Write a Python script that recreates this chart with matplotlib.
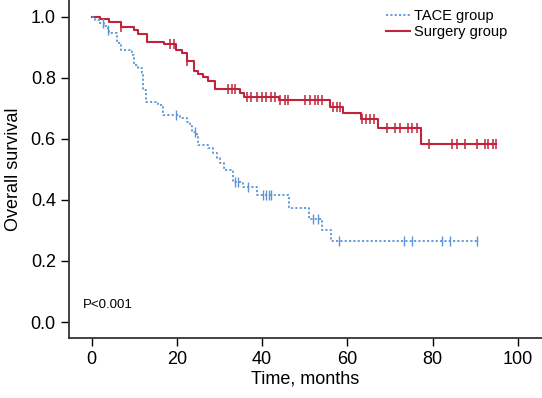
import numpy as np
import matplotlib
matplotlib.use("Agg")
import matplotlib.pyplot as plt

plt.rcParams['font.family'] = ['Liberation Sans', 'DejaVu Sans']

# Kaplan-Meier steps (time in months, survival after the drop)
surg_t = [0, 2.0, 4.1, 6.8, 9.9, 10.9, 12.9, 17.0, 19.9, 21.1, 22.4, 24.0, 25.0, 26.2,
          27.4, 28.9, 34.8, 35.8, 44.0, 55.9, 59.1, 63.2, 67.1, 77.2]
surg_s = [1.0, 0.991, 0.982, 0.967, 0.956, 0.942, 0.918, 0.909, 0.890, 0.879, 0.854, 0.822,
          0.812, 0.801, 0.788, 0.762, 0.751, 0.738, 0.727, 0.705, 0.683, 0.664, 0.634, 0.582]
surg_end = 94.9
surg_cens = [6.8, 18.4, 19.2, 22.4, 32.1, 32.9, 33.6, 36.4, 37.5, 38.7, 39.9, 41.0, 42.2, 43.0,
             44.2, 45.4, 46.1, 50.1, 51.3, 52.4, 53.2, 54.0, 56.7, 57.5, 58.3, 63.4, 64.4,
             65.3, 66.3, 69.2, 71.2, 72.4, 74.3, 75.1, 76.3, 79.2, 84.5, 85.7, 87.6, 90.4,
             92.3, 93.1, 94.1, 94.9]

tace_t = [0, 0.8, 1.8, 2.8, 3.8, 4.0, 5.9, 6.8, 9.4, 9.9, 10.9, 11.7, 12.0, 12.7, 15.6, 16.8,
          20.7, 22.3, 23.0, 23.6, 24.6, 25.0, 27.4, 28.5, 29.3, 30.1, 31.1, 33.2, 35.6, 38.7,
          46.2, 51.1, 54.0, 56.1]
tace_s = [1.0, 0.990, 0.979, 0.968, 0.957, 0.946, 0.912, 0.890, 0.874, 0.841, 0.830, 0.814,
          0.759, 0.721, 0.710, 0.678, 0.667, 0.656, 0.642, 0.623, 0.607, 0.580, 0.569, 0.552,
          0.536, 0.520, 0.498, 0.459, 0.443, 0.416, 0.372, 0.339, 0.303, 0.265]
tace_end = 90.4
tace_cens = [2.7, 3.9, 19.9, 24.2, 33.6, 34.4, 36.8, 40.3, 41.0, 41.6, 42.2, 52.0, 53.2,
             58.1, 73.2, 75.1, 82.2, 84.1, 90.4]

red = '#C0233A'
blue = '#5B95D8'


def step_at(ts, ss, x):
    i = np.searchsorted(ts, x, side='right') - 1
    return np.array(ss)[i]


fig = plt.figure(figsize=(5.42, 3.98), dpi=100)
ax = fig.add_axes([69 / 542, 1 - 338 / 398, 1 - 69 / 542, 338 / 398])

ax.step(surg_t + [surg_end], surg_s + [surg_s[-1]], where='post', color=red, lw=1.5,
        label='Surgery group')
ax.plot(surg_cens, step_at(surg_t, surg_s, surg_cens), ls='none', marker='|',
        color=red, ms=7, mew=1.1)

ax.step(tace_t + [tace_end], tace_s + [tace_s[-1]], where='post', color=blue, lw=1.3,
        ls=(0, (1.2, 1.2)), label='TACE group')
ax.plot(tace_cens, step_at(tace_t, tace_s, tace_cens), ls='none', marker='|',
        color=blue, ms=7, mew=1.0)

ax.set_xlim(-5.33, 105.7)
ax.set_ylim(-0.052, 1.054)
ax.set_xticks([0, 20, 40, 60, 80, 100])
ax.set_yticks([0.0, 0.2, 0.4, 0.6, 0.8, 1.0])
ax.set_yticklabels(['0.0', '0.2', '0.4', '0.6', '0.8', '1.0'])
ax.tick_params(labelsize=13, length=6, width=1, direction='out')
ax.spines['top'].set_visible(False)
ax.spines['right'].set_visible(False)
for s in ('left', 'bottom'):
    ax.spines[s].set_color('#333333')
    ax.spines[s].set_linewidth(1.3)

ax.set_xlabel('Time, months', fontsize=13, labelpad=2)
ax.set_ylabel('Overall survival', fontsize=13, labelpad=6)
ax.text(-2.0, 0.046, 'P<0.001', fontsize=9.5)

h, l = ax.get_legend_handles_labels()
ax.legend(h[::-1], l[::-1], loc='upper left', bbox_to_anchor=(377 / 542, 1.0),
          bbox_transform=fig.transFigure, frameon=False, fontsize=10.5,
          handlelength=1.6, handletextpad=0.3, labelspacing=0.1, borderpad=0.15)

fig.savefig('out.png', dpi=100)
